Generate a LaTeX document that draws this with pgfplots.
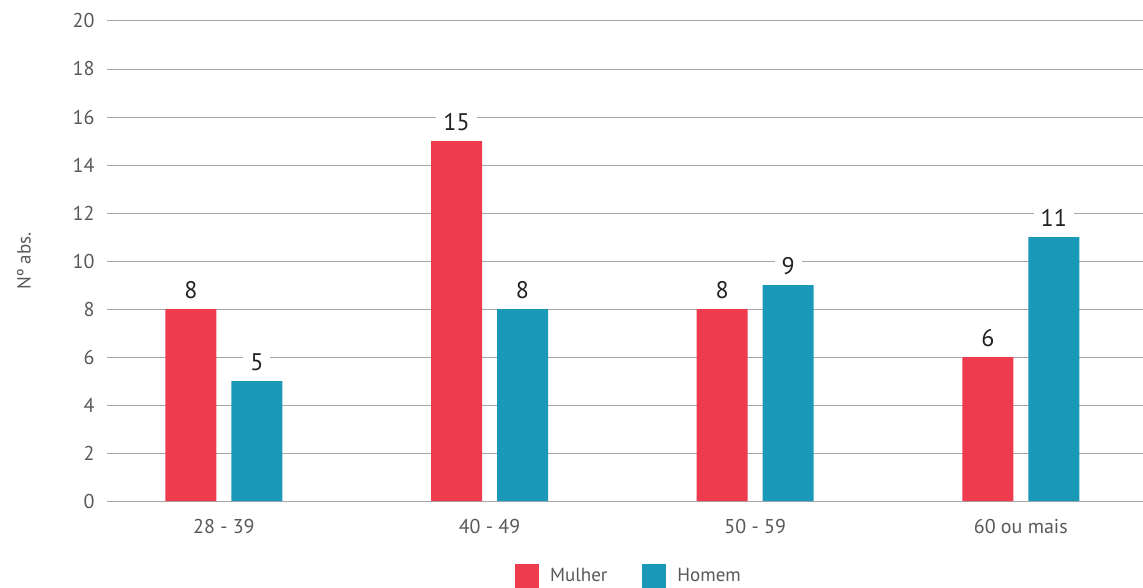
\documentclass[border=0pt]{standalone}
\usepackage{pgfplots}
\pgfplotsset{compat=1.18}
\usepackage{fontspec}
\setmainfont{PT Sans}
\definecolor{mulher}{HTML}{EE3B4E}
\definecolor{homem}{HTML}{1A98B8}
\definecolor{gridgray}{HTML}{A6A6A6}
\definecolor{labelgray}{HTML}{595959}
\definecolor{valuedark}{HTML}{222222}
\begin{document}
\begin{tikzpicture}
\path[use as bounding box] (-107pt,-86pt) rectangle (1036pt,501pt);
\begin{axis}[
  at={(0pt,0pt)}, anchor=south west,
  scale only axis,
  width=1036pt, height=480pt,
  ybar, bar width=51pt,
  xmin=-0.44, xmax=3.46,
  ymin=0, ymax=20,
  ytick={0,2,...,20},
  xtick={0,1,2,3},
  xticklabels={28 - 39, 40 - 49, 50 - 59, 60 ou mais},
  axis line style={draw=none},
  major tick length=0pt,
  ymajorgrids,
  grid style={gridgray, line width=1pt},
  /pgf/number format/assume math mode=true,
  tick label style={font=\fontsize{20}{23}\selectfont, text=labelgray},
  yticklabel style={xshift=-9pt},
  xticklabel style={yshift=-15pt},
  ylabel={Nº abs.},
  every axis y label/.style={at={(axis description cs:0,0.5)}, rotate=90, anchor=center, yshift=83pt, font=\fontsize{19}{22}\selectfont, text=labelgray},
  nodes near coords,
  every node near coord/.append style={font=\fontsize{24}{27}\selectfont, text=valuedark, fill=white, inner xsep=7pt, inner ysep=2pt, anchor=center, yshift=19pt},
  legend columns=2,
  legend style={at={(axis description cs:0.5,-0.156)}, anchor=center, xshift=4pt, draw=none, fill=none,
    font=\fontsize{19}{22}\selectfont, text=labelgray,
    /tikz/every odd column/.append style={column sep=9pt},
    /tikz/every even column/.append style={column sep=33pt}},
  legend image code/.code={\fill[#1] (0pt,-12pt) rectangle (24pt,12pt);},
  clip=false,
]
\addplot[fill=mulher, draw=none, bar shift=-33pt] coordinates {(0,8) (1,15) (2,8) (3,6)};
\addlegendentry{Mulher}
\addplot[fill=homem, draw=none, bar shift=33pt] coordinates {(0,5) (1,8) (2,9) (3,11)};
\addlegendentry{Homem}
\end{axis}
\end{tikzpicture}
\end{document}
